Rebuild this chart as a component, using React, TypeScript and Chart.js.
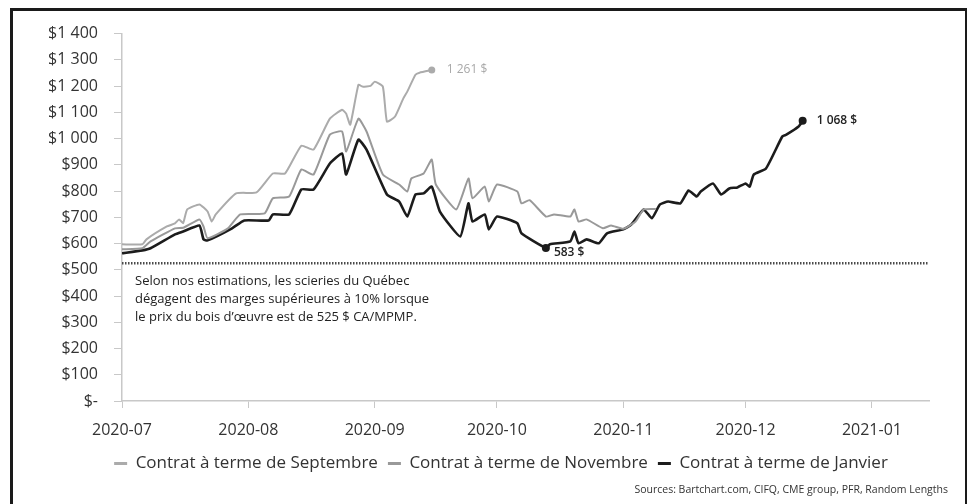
import React, { useEffect, useRef } from "react";
import { Chart, registerables } from "chart.js";

Chart.register(...registerables);

const FONT = "'Open Sans', 'Noto Sans', sans-serif";

const monthTickDates = ["2020-07-01", "2020-08-01", "2020-09-01", "2020-10-01", "2020-11-01", "2020-12-01", "2021-01-01"];
const monthTickLabels = ["2020-07", "2020-08", "2020-09", "2020-10", "2020-11", "2020-12", "2021-01"];
const yTickLabels = ["$-", "$100", "$200", "$300", "$400", "$500", "$600", "$700", "$800", "$900", "$1 000", "$1 100", "$1 200", "$1 300", "$1 400"];

const seriesNames = ["Contrat à terme de Septembre", "Contrat à terme de Novembre", "Contrat à terme de Janvier"];

const sepDates = ["2020-07-01", "2020-07-06", "2020-07-07", "2020-07-12", "2020-07-14", "2020-07-15", "2020-07-16", "2020-07-17", "2020-07-20", "2020-07-22", "2020-07-23", "2020-07-24", "2020-07-29", "2020-08-03", "2020-08-07", "2020-08-10", "2020-08-14", "2020-08-17", "2020-08-21", "2020-08-24", "2020-08-25", "2020-08-26", "2020-08-28", "2020-08-29", "2020-08-31", "2020-09-01", "2020-09-03", "2020-09-04", "2020-09-06", "2020-09-08", "2020-09-09", "2020-09-11", "2020-09-12", "2020-09-15"];
const sepValues = [597, 597, 616, 665, 677, 692, 678, 730, 749, 722, 684, 711, 791, 795, 867, 867, 973, 958, 1076, 1110, 1095, 1053, 1205, 1198, 1201, 1217, 1198, 1065, 1084, 1152, 1179, 1243, 1251, 1261];

const novDates = ["2020-07-01", "2020-07-06", "2020-07-08", "2020-07-14", "2020-07-16", "2020-07-20", "2020-07-21", "2020-07-22", "2020-07-27", "2020-07-30", "2020-08-05", "2020-08-07", "2020-08-11", "2020-08-14", "2020-08-17", "2020-08-21", "2020-08-24", "2020-08-25", "2020-08-28", "2020-08-30", "2020-09-03", "2020-09-07", "2020-09-09", "2020-09-10", "2020-09-13", "2020-09-15", "2020-09-16", "2020-09-21", "2020-09-24", "2020-09-25", "2020-09-28", "2020-09-29", "2020-10-01", "2020-10-06", "2020-10-07", "2020-10-09", "2020-10-13", "2020-10-15", "2020-10-19", "2020-10-20", "2020-10-21", "2020-10-23", "2020-10-27", "2020-10-29", "2020-11-01", "2020-11-04", "2020-11-06", "2020-11-09"];
const novValues = [578, 582, 608, 658, 660, 692, 665, 620, 658, 711, 715, 772, 779, 882, 863, 1015, 1027, 951, 1076, 1027, 863, 825, 798, 848, 867, 920, 825, 730, 848, 772, 817, 760, 825, 798, 753, 765, 703, 711, 703, 730, 684, 692, 658, 669, 656, 684, 730, 732];

const janDates = ["2020-07-01", "2020-07-06", "2020-07-08", "2020-07-14", "2020-07-16", "2020-07-20", "2020-07-21", "2020-07-22", "2020-07-28", "2020-07-31", "2020-08-06", "2020-08-07", "2020-08-11", "2020-08-14", "2020-08-17", "2020-08-21", "2020-08-24", "2020-08-25", "2020-08-28", "2020-08-30", "2020-09-04", "2020-09-07", "2020-09-09", "2020-09-11", "2020-09-13", "2020-09-15", "2020-09-17", "2020-09-22", "2020-09-24", "2020-09-25", "2020-09-28", "2020-09-29", "2020-10-01", "2020-10-06", "2020-10-07", "2020-10-13", "2020-10-14", "2020-10-19", "2020-10-20", "2020-10-21", "2020-10-23", "2020-10-26", "2020-10-28", "2020-11-01", "2020-11-03", "2020-11-06", "2020-11-08", "2020-11-10", "2020-11-12", "2020-11-15", "2020-11-17", "2020-11-19", "2020-11-20", "2020-11-23", "2020-11-25", "2020-11-27", "2020-11-29", "2020-12-01", "2020-12-02", "2020-12-03", "2020-12-06", "2020-12-10", "2020-12-11", "2020-12-14", "2020-12-15"];
const janValues = [563, 574, 582, 635, 646, 669, 616, 612, 658, 688, 688, 711, 711, 806, 806, 905, 943, 863, 996, 958, 787, 760, 703, 787, 791, 817, 722, 627, 753, 684, 711, 654, 703, 677, 639, 583, 597, 608, 646, 601, 616, 601, 639, 654, 673, 730, 696, 749, 760, 753, 802, 779, 798, 829, 787, 810, 814, 829, 817, 863, 886, 1008, 1015, 1046, 1068];
const janLowDate = "2020-10-13";

const seriesColors = ["#ababab", "#999999", "#1c1c1c"];
const seriesWidths = [2, 2, 2.6];

const threshold = 525;
const noteLines = [
  "Selon nos estimations, les scieries du Québec",
  "dégagent des marges supérieures à 10% lorsque",
  "le prix du bois d’œuvre est de 525 $ CA/MPMP.",
];
const sourcesText = "Sources: Bartchart.com, CIFQ, CME group, PFR, Random Lengths";
const xMaxDate = "2021-01-15";

const BASE = Date.UTC(2020, 6, 1);
function toDay(s: string): number {
  const [y, m, d] = s.split("-").map(Number);
  return (Date.UTC(y, m - 1, d) - BASE) / 86400000;
}
function fmtLabel(v: number): string {
  const s = String(v);
  return s.length > 3 ? s.slice(0, s.length - 3) + " " + s.slice(-3) + " $" : s + " $";
}

const annotPlugin = {
  id: "annot",
  beforeDatasetsDraw(chart: any) {
    const { ctx, chartArea, scales } = chart;
    const y = scales.y;
    const yy = y.getPixelForValue(threshold);
    ctx.save();
    ctx.strokeStyle = "#4a4a4a";
    ctx.lineWidth = 2.5;
    ctx.setLineDash([1.5, 1.5]);
    ctx.beginPath();
    ctx.moveTo(chartArea.left, yy);
    ctx.lineTo(chartArea.right, yy);
    ctx.stroke();
    ctx.setLineDash([]);
    ctx.fillStyle = "#222";
    ctx.font = `13px ${FONT}`;
    ctx.textBaseline = "middle";
    ctx.textAlign = "left";
    noteLines.forEach((t, i) => ctx.fillText(t, chartArea.left + 13, yy + 18 + i * 18));
    ctx.restore();
  },
  afterDatasetsDraw(chart: any) {
    const { ctx, scales } = chart;
    const x = scales.x;
    const y = scales.y;
    ctx.save();
    ctx.textBaseline = "middle";
    ctx.textAlign = "left";
    const sIdx = sepValues.length - 1;
    const sx = x.getPixelForValue(toDay(sepDates[sIdx]));
    const sy = y.getPixelForValue(sepValues[sIdx]);
    ctx.fillStyle = "#a8a8a8";
    ctx.font = `12px ${FONT}`;
    ctx.fillText(fmtLabel(sepValues[sIdx]), sx + 15, sy);
    const jIdx = janValues.length - 1;
    const jx = x.getPixelForValue(toDay(janDates[jIdx]));
    const jy = y.getPixelForValue(janValues[jIdx]);
    ctx.fillStyle = "#222";
    ctx.font = `600 12px ${FONT}`;
    ctx.fillText(fmtLabel(janValues[jIdx]), jx + 14, jy);
    const mIdx = janDates.indexOf(janLowDate);
    const mx = x.getPixelForValue(toDay(janDates[mIdx]));
    const my = y.getPixelForValue(janValues[mIdx]);
    ctx.fillText(fmtLabel(janValues[mIdx]), mx + 8, my + 5);
    ctx.fillStyle = "#333";
    ctx.font = `10.5px ${FONT}`;
    ctx.textAlign = "right";
    ctx.fillText(sourcesText, chart.width - 17, chart.height - 14);
    ctx.restore();
  },
};

function makeData(dates: string[], values: number[]) {
  return dates.map((d, i) => ({ x: toDay(d), y: values[i] }));
}

export default function App() {
  const ref = useRef<HTMLCanvasElement | null>(null);
  useEffect(() => {
    if (!ref.current) return;
    const janMinIdx = janDates.indexOf(janLowDate);
    const radiusFor = (k: number) => (c: any) => {
      const n = c.dataset.data.length;
      if (k === 0 && c.dataIndex === n - 1) return 3.5;
      if (k === 2 && (c.dataIndex === n - 1 || c.dataIndex === janMinIdx)) return 4;
      return 0;
    };
    const allDates = [sepDates, novDates, janDates];
    const allValues = [sepValues, novValues, janValues];
    const monthDays = monthTickDates.map(toDay);
    const chart = new Chart(ref.current, {
      type: "line",
      data: {
        datasets: seriesNames.map((name, k) => ({
          label: name,
          data: makeData(allDates[k], allValues[k]),
          borderColor: seriesColors[k],
          backgroundColor: seriesColors[k],
          pointBackgroundColor: seriesColors[k],
          pointBorderWidth: 0,
          borderWidth: seriesWidths[k],
          pointRadius: radiusFor(k),
          pointHoverRadius: 0,
          tension: 0.15,
          fill: false,
        })),
      },
      options: {
        animation: false,
        responsive: true,
        maintainAspectRatio: false,
        layout: { padding: { left: 24, right: 0, top: 12, bottom: 22 } },
        plugins: {
          tooltip: { enabled: false },
          legend: {
            position: "bottom",
            labels: {
              font: { family: FONT, size: 17 },
              color: "#333",
              boxWidth: 13,
              boxHeight: 3,
              padding: 10,
              generateLabels: (ch: any) =>
                Chart.defaults.plugins.legend.labels.generateLabels(ch).map((it: any) => ({ ...it, lineWidth: 0 })),
            },
          },
        },
        scales: {
          x: {
            type: "linear",
            min: 0,
            max: toDay(xMaxDate),
            afterBuildTicks: (s: any) => {
              s.ticks = monthDays.map((v) => ({ value: v }));
            },
            afterFit: (s: any) => {
              s.height = 44;
            },
            ticks: {
              autoSkip: false,
              maxRotation: 0,
              padding: 13,
              color: "#333",
              font: { family: FONT, size: 16 },
              callback: (v: any) => {
                const i = monthDays.indexOf(Number(v));
                return i >= 0 ? monthTickLabels[i] : "";
              },
            },
            grid: { drawOnChartArea: false, tickLength: 7, color: "#c8c8c8" },
            border: { color: "#c8c8c8", width: 1.5 },
          },
          y: {
            min: 0,
            max: 1400,
            afterFit: (s: any) => {
              s.width = 85;
            },
            ticks: {
              stepSize: 100,
              padding: 16,
              color: "#333",
              font: { family: FONT, size: 16 },
              callback: (v: any) => yTickLabels[Math.round(Number(v) / 100)] ?? "",
            },
            grid: { drawOnChartArea: false, tickLength: 8, color: "#c8c8c8" },
            border: { color: "#c8c8c8", width: 1.5 },
          },
          y2: {
            position: "right",
            display: true,
            min: 0,
            max: 1400,
            afterFit: (s: any) => {
              s.width = 36;
            },
            ticks: { display: false },
            grid: { display: false, drawTicks: false },
            border: { display: false },
          },
        },
      },
      plugins: [annotPlugin],
    });
    return () => chart.destroy();
  }, []);

  return (
    <div
      style={{
        marginLeft: 2,
        width: 952,
        height: 496,
        border: "3px solid #1a1a1a",
        background: "#fff",
      }}
    >
      <div style={{ position: "relative", width: 952, height: 496, marginTop: -3 }}>
        <canvas ref={ref} />
      </div>
    </div>
  );
}
